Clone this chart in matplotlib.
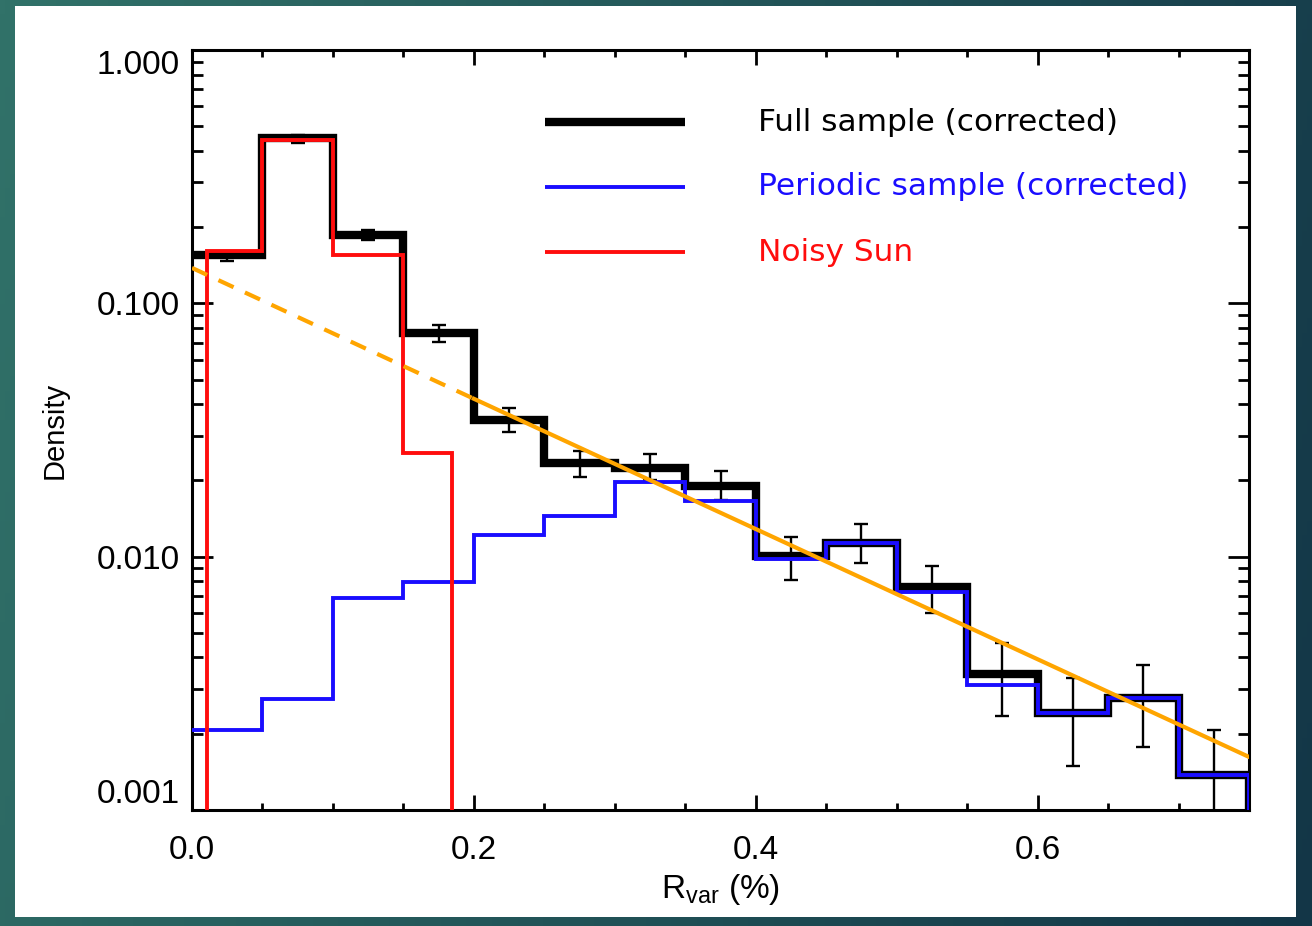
import numpy as np
import matplotlib
matplotlib.use('Agg')
import matplotlib.pyplot as plt
from matplotlib.patches import Rectangle
from matplotlib.ticker import FixedLocator, MultipleLocator, LogLocator, NullFormatter, FixedFormatter

# ---------------- data ----------------
bin_edges = [0.00, 0.05, 0.10, 0.15, 0.20, 0.25, 0.30, 0.35, 0.40,
             0.45, 0.50, 0.55, 0.60, 0.65, 0.70, 0.75]
full_density = [0.155, 0.45, 0.186, 0.0763, 0.0346, 0.0234, 0.0224, 0.0190,
                0.01005, 0.0113, 0.00759, 0.00344, 0.00241, 0.00277, 0.00137]
periodic_density = [0.00207, 0.00274, 0.00687, 0.00794, 0.01217, 0.01445, 0.0197,
                    0.0166, 0.00978, 0.0113, 0.00725, 0.00311, 0.00241, 0.00277, 0.00137]
noisy_edges = [0.0106, 0.05, 0.10, 0.15, 0.1845]
noisy_density = [0.161, 0.44, 0.155, 0.0256]

err_x = [0.025, 0.075, 0.125, 0.175, 0.225, 0.275, 0.325, 0.375,
         0.425, 0.475, 0.525, 0.575, 0.625, 0.675, 0.725]
err_lo = [0.147, 0.43, 0.178, 0.0704, 0.0310, 0.0206, 0.0200, 0.0167,
          0.00809, 0.00944, 0.00599, 0.00235, 0.00149, 0.00177, 0.0005]
err_hi = [0.158, 0.46, 0.1948, 0.0821, 0.0386, 0.0261, 0.0254, 0.0218,
          0.01195, 0.01345, 0.00918, 0.00456, 0.00332, 0.00373, 0.00207]

fit_dash_x = [0.0, 0.2]
fit_dash_y = [0.138, 0.042]
fit_solid_x = [0.2, 0.75]
fit_solid_y = [0.042, 0.00162]

x_ticks = [0.0, 0.2, 0.4, 0.6]
x_ticklabels = ['0.0', '0.2', '0.4', '0.6']
y_ticks = [0.001, 0.01, 0.1, 1.0]
y_ticklabels = ['0.001', '0.010', '0.100', '1.000']

legend_labels = ['Full sample (corrected)', 'Periodic sample (corrected)', 'Noisy Sun']
legend_colors = ['black', '#1a0dff', '#ff0d0d']
legend_widths = [6.0, 2.8, 2.8]

# ---------------- figure ----------------
plt.rcParams['font.family'] = ['Liberation Sans', 'DejaVu Sans']
plt.rcParams['mathtext.default'] = 'regular'

W, H = 1312, 926
fig = plt.figure(figsize=(W / 100, H / 100), dpi=100)

# background gradient + white panel
ax_bg = fig.add_axes([0, 0, 1, 1], zorder=-10)
gx = np.linspace(0, 1, 256)
gy = np.linspace(0, 1, 64)
GX, GY = np.meshgrid(gx, gy)
c_left = np.array([0x31, 0x72, 0x69]) / 255
c_right = np.array([0x13, 0x36, 0x47]) / 255
t = np.clip(GX * 0.85 + GY * 0.15, 0, 1)[..., None]
grad = c_left * (1 - t) + c_right * t
ax_bg.imshow(grad, extent=[0, 1, 0, 1], aspect='auto', origin='upper')
ax_bg.add_patch(Rectangle((15 / W, (H - 917) / H), (1296 - 15) / W, (917 - 6) / H,
                          transform=ax_bg.transAxes, facecolor='white', edgecolor='none'))
ax_bg.set_xlim(0, 1)
ax_bg.set_ylim(0, 1)
ax_bg.axis('off')

ax = fig.add_axes([192 / W, (H - 810) / H, (1249 - 192) / W, (810 - 50) / H])
ax.set_facecolor('white')
ax.set_yscale('log')

# full sample (thick black)
ax.stairs(full_density, bin_edges, baseline=None, color='black', linewidth=6.0, zorder=2)
ax.plot([bin_edges[-1], bin_edges[-1]], [full_density[-1], 1e-5], color='black',
        linewidth=6.0, zorder=2, solid_capstyle='butt')

# error bars
lo = np.array(err_lo)
hi = np.array(err_hi)
mid = np.sqrt(lo * hi)
ax.errorbar(err_x, mid, yerr=[mid - lo, hi - mid], fmt='none', ecolor='black',
            elinewidth=1.7, capsize=5, capthick=1.7, zorder=3)

# periodic sample (blue)
ax.stairs(periodic_density, bin_edges, baseline=None, color='#1a0dff', linewidth=2.8, zorder=4)
ax.plot([bin_edges[-1], bin_edges[-1]], [periodic_density[-1], 1e-5], color='#1a0dff',
        linewidth=2.8, zorder=4)

# noisy sun (red)
ax.stairs(noisy_density, noisy_edges, baseline=1e-5, color='#ff0d0d', linewidth=2.8, zorder=5)

# exponential fit (orange)
ax.plot(fit_dash_x, fit_dash_y, color='#ffa500', linewidth=3.0, dashes=(4, 3), zorder=6)
ax.plot(fit_solid_x, fit_solid_y, color='#ffa500', linewidth=3.0, zorder=6)

ax.set_xlim(0, 0.75)
ax.set_ylim(1e-3, 1.0)

# ticks
ax.xaxis.set_major_locator(FixedLocator(x_ticks))
ax.xaxis.set_major_formatter(FixedFormatter(x_ticklabels))
ax.xaxis.set_minor_locator(MultipleLocator(0.05))
ax.yaxis.set_major_locator(FixedLocator(y_ticks))
ax.yaxis.set_major_formatter(FixedFormatter(y_ticklabels))
ax.yaxis.set_minor_locator(LogLocator(base=10, subs=np.arange(2, 10)))
ax.yaxis.set_minor_formatter(NullFormatter())

ax.tick_params(which='both', direction='in', top=True, right=True, width=2.0, colors='black')
ax.xaxis.set_tick_params(which='major', length=11, pad=18, labelsize=24)
ax.xaxis.set_tick_params(which='minor', length=5)
ax.yaxis.set_tick_params(which='major', length=15, pad=9, labelsize=24)
ax.yaxis.set_tick_params(which='minor', length=8)
for s in ax.spines.values():
    s.set_linewidth(2.2)

ylabels = ax.get_yticklabels()
ylabels[0].set_va('bottom')
ylabels[-1].set_va('top')

ax.set_xlabel('R$_{var}$ (%)', fontsize=24, labelpad=4)
ax.set_ylabel('Density', fontsize=21, labelpad=20)

# custom legend
leg_y = [0.905, 0.820, 0.734]
for lab, col, lw, yy in zip(legend_labels, legend_colors, legend_widths, leg_y):
    ax.plot([0.334, 0.466], [yy, yy], transform=ax.transAxes, color=col, linewidth=lw,
            solid_capstyle='butt', zorder=7)
    ax.text(0.5355, yy, lab, transform=ax.transAxes, color=col, fontsize=22.5,
            family='DejaVu Sans', va='center', ha='left', zorder=7)

fig.savefig('out.png', dpi=100)
